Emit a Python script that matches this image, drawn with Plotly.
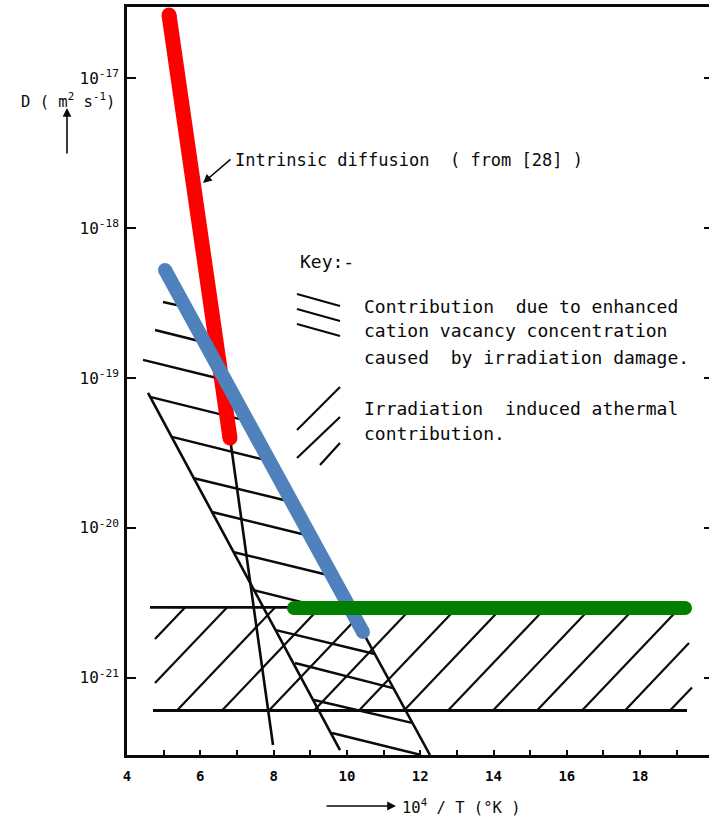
import plotly.graph_objects as go

FONT = "DejaVu Sans Mono"
INK = "#0a0a0a"

# ---------------- axes ----------------
x_range = [4.0, 19.88]                 # 10^4 / T
logD_range = [-21.516, -16.523]        # log10 D (m^2 s^-1)
x_tick_values = [4, 5, 6, 7, 8, 9, 10, 11, 12, 13, 14, 15, 16, 17, 18, 19]
x_tick_labels = ["4", "", "6", "", "8", "", "10", "", "12", "", "14", "", "16", "", "18", ""]
decade_exponents = [-17, -18, -19, -20, -21]
y_tick_labels = ["10<sup>-17</sup>", "10<sup>-18</sup>", "10<sup>-19</sup>",
                 "10<sup>-20</sup>", "10<sup>-21</sup>"]

# ---------------- curves (x = 10^4/T, values = log10 D) ----------------
# intrinsic diffusion (from [28]) and its thin continuation
intrinsic_x = [5.146, 6.810]
intrinsic_logD = [-16.576, -19.400]
intrinsic_ext_x = [6.810, 7.984]
intrinsic_ext_logD = [-19.400, -21.449]

# high-temperature edge of the enhanced cation vacancy contribution
vacancy_x = [5.037, 10.439]
vacancy_logD = [-18.278, -20.695]
vacancy_ext_x = [5.037, 12.267]
vacancy_ext_logD = [-18.278, -21.516]

# low-temperature edge of the enhanced cation vacancy contribution
vac_edge_x = [4.573, 9.812]
vac_edge_logD = [-19.099, -21.483]

# irradiation induced athermal level
athermal_x = [8.557, 19.225]
athermal_logD = [-20.535, -20.535]

# athermal band limits
band_top_x = [4.628, 19.360]
band_top_logD = [-20.531, -20.531]
band_bot_x = [4.709, 19.280]
band_bot_logD = [-21.219, -21.219]

# hatching of the vacancy region (segment start / end)
vac_hatch_x0 = [4.982, 4.764, 4.437, 4.628, 5.228, 5.801, 6.319, 6.892, 7.438, 8.065, 8.584, 9.102, 9.593]
vac_hatch_l0 = [-18.492, -18.679, -18.879, -19.126, -19.393, -19.667, -19.894, -20.161, -20.415,
                -20.682, -20.902, -21.149, -21.369]
vac_hatch_x1 = [5.583, 6.074, 6.674, 7.274, 7.874, 8.502, 8.993, 9.593, 10.166, 10.766, 11.257, 11.776, 12.022]
vac_hatch_l1 = [-18.525, -18.759, -19.013, -19.286, -19.553, -19.827, -20.054, -20.321, -20.581,
                -20.842, -21.069, -21.302, -21.516]

# hatching of the athermal band (segment start / end)
band_hatch_x0 = [4.764, 4.764, 5.364, 6.592, 7.874, 9.102, 10.330, 11.558, 12.759, 13.986,
                 15.187, 16.415, 17.588, 18.816]
band_hatch_l0 = [-20.742, -21.035, -21.219, -21.219, -21.219, -21.219, -21.219, -21.219, -21.219,
                 -21.219, -21.219, -21.219, -21.219, -21.219]
band_hatch_x1 = [5.583, 6.728, 8.038, 9.266, 10.548, 11.776, 13.004, 14.232, 15.432, 16.660,
                 17.861, 19.089, 19.334, 19.416]
band_hatch_l1 = [-20.531, -20.531, -20.531, -20.531, -20.531, -20.531, -20.531, -20.531, -20.531,
                 -20.531, -20.531, -20.531, -20.768, -21.065]

# ---------------- page geometry ----------------
W, H = 709, 819
M_L, M_R, M_T, M_B = 127, 0, 7, 64


def paper(px, py):
    return (px - M_L) / (W - M_L - M_R), (H - M_B - py) / (H - M_T - M_B)


def to_d(values):
    return [10 ** v for v in values]


def segments(x0, l0, x1, l1):
    xs, ys = [], []
    for a, b, c, d in zip(x0, l0, x1, l1):
        xs += [a, c, None]
        ys += [10 ** b, 10 ** d, None]
    return xs, ys


fig = go.Figure()


def ink_line(xs, ys, width=2.4, yaxis="y"):
    fig.add_trace(go.Scatter(x=xs, y=ys, mode="lines", yaxis=yaxis,
                             line=dict(color=INK, width=width),
                             hoverinfo="skip", showlegend=False))


hx, hy = segments(vac_hatch_x0, vac_hatch_l0, vac_hatch_x1, vac_hatch_l1)
ink_line(hx, hy)
bx, by = segments(band_hatch_x0, band_hatch_l0, band_hatch_x1, band_hatch_l1)
ink_line(bx, by, width=2.2)
ink_line(band_top_x, to_d(band_top_logD), width=2.8)
# lower band limit sits on the right-hand axis (nothing coloured crosses it)
ink_line(band_bot_x, to_d(band_bot_logD), width=2.8, yaxis="y2")
ink_line(vac_edge_x, to_d(vac_edge_logD), width=2.6)
ink_line(intrinsic_ext_x, to_d(intrinsic_ext_logD), width=2.6)
ink_line(vacancy_ext_x, to_d(vacancy_ext_logD), width=2.6)


def bold_line(xs, logs, color, width):
    fig.add_trace(go.Scatter(x=xs, y=to_d(logs), mode="lines+markers",
                             line=dict(color=color, width=width),
                             marker=dict(color=color, size=width),
                             hoverinfo="skip", showlegend=False))


bold_line(intrinsic_x, intrinsic_logD, "#FF0000", 15)
bold_line(vacancy_x, vacancy_logD, "#4F81BD", 14)
bold_line(athermal_x, athermal_logD, "#008000", 14)

# ---------------- key ----------------
shapes = []
key_desc = [((297, 294), (340, 306)), ((297, 309), (340, 321)), ((297, 324), (340, 336))]
key_asc = [((297, 430), (340, 387)), ((297, 458), (340, 417)), ((320, 465), (340, 443))]
for (p0, p1) in key_desc + key_asc:
    x0, y0 = paper(*p0)
    x1, y1 = paper(*p1)
    shapes.append(dict(type="line", xref="paper", yref="paper", x0=x0, y0=y0, x1=x1, y1=y1,
                       line=dict(color=INK, width=2.2)))

annotations = []


def text(px, py, s, size, anchor="left"):
    x, y = paper(px, py)
    annotations.append(dict(xref="paper", yref="paper", x=x, y=y, text=s, showarrow=False,
                            xanchor=anchor, yanchor="middle",
                            font=dict(family=FONT, size=size, color=INK)))


def arrow(tip, tail):
    x, y = paper(*tip)
    annotations.append(dict(xref="paper", yref="paper", x=x, y=y, text="", showarrow=True,
                            ax=tail[0] - tip[0], ay=tail[1] - tip[1],
                            arrowhead=2, arrowsize=1.1, arrowwidth=1.6, arrowcolor=INK))


text(233, 160, "Intrinsic diffusion  ( from [28] )", 17)
arrow((203, 183), (232, 158))

text(298, 261, "Key:-", 18)
text(362, 306, "Contribution  due to enhanced", 18)
text(362, 331, "cation vacancy concentration", 18)
text(362, 357, "caused  by irradiation damage.", 18)
text(362, 408, "Irradiation  induced athermal", 18)
text(362, 434, "contribution.", 18)

text(19, 101, "D ( m<sup>2</sup> s<sup>-1</sup>)", 15.5)
arrow((67, 108), (67, 155))

arrow((396, 806), (325, 806))
text(400, 806, "10<sup>4</sup> / T (°K )", 15.5)

fig.update_layout(
    width=W, height=H,
    margin=dict(l=M_L, r=M_R, t=M_T, b=M_B, pad=0),
    paper_bgcolor="white", plot_bgcolor="white",
    font=dict(family=FONT, color=INK),
    showlegend=False,
    xaxis=dict(range=x_range, tickvals=x_tick_values, ticktext=x_tick_labels,
               ticks="inside", ticklen=5, tickwidth=2, tickcolor=INK,
               showline=True, linewidth=2.6, linecolor=INK, mirror=True,
               showgrid=False, zeroline=False, ticklabelstandoff=6,
               tickfont=dict(family=FONT, size=14, color=INK, weight="bold")),
    yaxis=dict(type="log", range=logD_range,
               tickvals=[10 ** e for e in decade_exponents], ticktext=y_tick_labels,
               ticks="inside", ticklen=9, tickwidth=2, tickcolor=INK,
               showline=True, linewidth=2.6, linecolor=INK, mirror=False,
               showgrid=False, zeroline=False, ticklabelstandoff=2,
               tickfont=dict(family=FONT, size=16, color=INK)),
    yaxis2=dict(type="log", range=logD_range, overlaying="y", side="right",
                tickvals=[10 ** e for e in decade_exponents],
                ticks="inside", ticklen=5, tickwidth=2, tickcolor=INK,
                showticklabels=False, showline=False, showgrid=False, zeroline=False),
    shapes=shapes,
    annotations=annotations,
)

fig.write_html("out.html")
